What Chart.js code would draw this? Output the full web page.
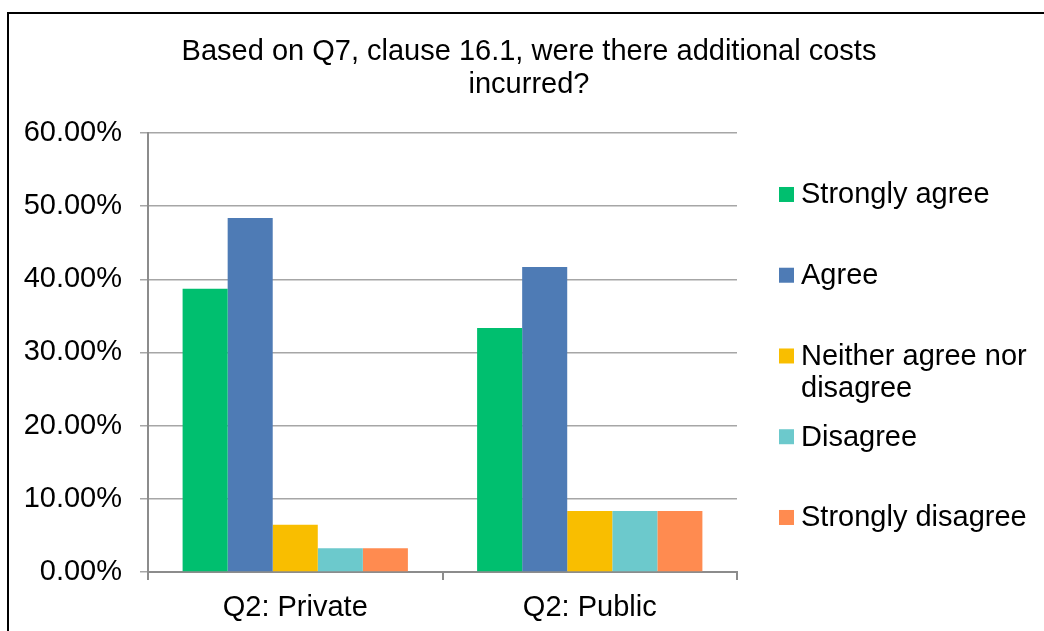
<!DOCTYPE html>
<html>
<head>
<meta charset="utf-8">
<script src="https://cdn.jsdelivr.net/npm/chart.js@4.4.1/dist/chart.umd.min.js"></script>
<style>
  html, body { margin: 0; padding: 0; background: #fff; overflow: hidden; }
  #frame { position: absolute; left: 7px; top: 12px; width: 1200px; height: 800px; border: 2px solid #000; }
  #wrap { position: absolute; left: 0; top: 0; width: 1044px; height: 631px; }
</style>
</head>
<body>
<div id="frame"></div>
<div id="wrap"><canvas id="chart"></canvas></div>
<script>
const categories = ['Q2: Private', 'Q2: Public']
const seriesNames = ['Strongly agree', 'Agree', 'Neither agree nor disagree', 'Disagree', 'Strongly disagree']
const stronglyAgree = [38.71, 33.33]
const agree = [48.39, 41.67]
const neither = [6.45, 8.33]
const disagree = [3.23, 8.33]
const stronglyDisagree = [3.23, 8.33]
const colors = ['#00bf6f', '#4e7bb5', '#f9be00', '#6cc9cc', '#ff8b50']

const FONT = '"Liberation Sans", Arial, sans-serif'
Chart.defaults.font.family = FONT
Chart.defaults.color = '#000'

// legend drawn by hand so the long label can wrap onto two lines
const sideLegend = {
  id: 'sideLegend',
  afterDraw(chart) {
    const ctx = chart.ctx
    const area = chart.chartArea
    const step = 80.75
    const sets = chart.data.datasets
    const x = area.right + 42
    let y = (area.top + area.bottom) / 2 + 3.5 - step * (sets.length - 1) / 2
    ctx.save()
    ctx.font = '29px ' + FONT
    ctx.textBaseline = 'middle'
    ctx.fillStyle = '#000'
    sets.forEach(ds => {
      ctx.fillStyle = ds.backgroundColor
      ctx.fillRect(x, y - 7.5, 15, 15)
      ctx.fillStyle = '#000'
      // wrap words to fit the space on the right
      const words = ds.label.split(' ')
      const lines = []
      let line = ''
      words.forEach(w => {
        const test = line ? line + ' ' + w : w
        if (ctx.measureText(test).width > 236 && line) {
          lines.push(line)
          line = w
        } else {
          line = test
        }
      })
      lines.push(line)
      lines.forEach((l, i) => ctx.fillText(l, x + 22, y + 1 + i * 32))
      y += step
    })
    ctx.restore()
  }
}

const seriesValues = [stronglyAgree, agree, neither, disagree, stronglyDisagree]

const chart = new Chart('chart', {
  type: 'bar',
  data: {
    labels: categories,
    datasets: seriesNames.map((name, i) => ({
      label: name,
      data: seriesValues[i],
      backgroundColor: colors[i],
      categoryPercentage: 0.765,
      barPercentage: 1.0
    }))
  },
  options: {
    responsive: true,
    maintainAspectRatio: false,
    animation: false,
    layout: { padding: { left: 14, right: 0, top: 0, bottom: 0 } },
    plugins: {
      legend: { display: false },
      tooltip: { enabled: false },
      title: {
        display: true,
        text: ['Based on Q7, clause 16.1, were there additional costs', 'incurred?'],
        font: { size: 29, weight: 'normal', lineHeight: 1.12 },
        color: '#000',
        padding: { top: 36, bottom: 32 }
      }
    },
    scales: {
      x: {
        grid: { drawOnChartArea: false, offset: true, tickLength: 8, color: '#8c8c8c', lineWidth: 2 },
        border: { color: '#8c8c8c', width: 2 },
        ticks: { font: { size: 29 }, padding: 11, color: '#000' },
        afterFit: s => { s.height = 59 }
      },
      y: {
        min: 0,
        max: 60,
        ticks: {
          stepSize: 10,
          font: { size: 29 },
          padding: 18,
          color: '#000',
          callback: v => v.toFixed(2) + '%'
        },
        grid: { color: '#a6a6a6', lineWidth: 1.5, tickLength: 8 },
        border: { color: '#8c8c8c', width: 2 },
        afterFit: s => { s.width = 134 }
      },
      // empty axis that keeps room for the legend on the right
      side: {
        position: 'right',
        display: true,
        grid: { display: false },
        border: { display: false },
        ticks: { display: false },
        afterFit: s => { s.width = 307 }
      }
    }
  },
  plugins: [sideLegend]
})
</script>
</body>
</html>
